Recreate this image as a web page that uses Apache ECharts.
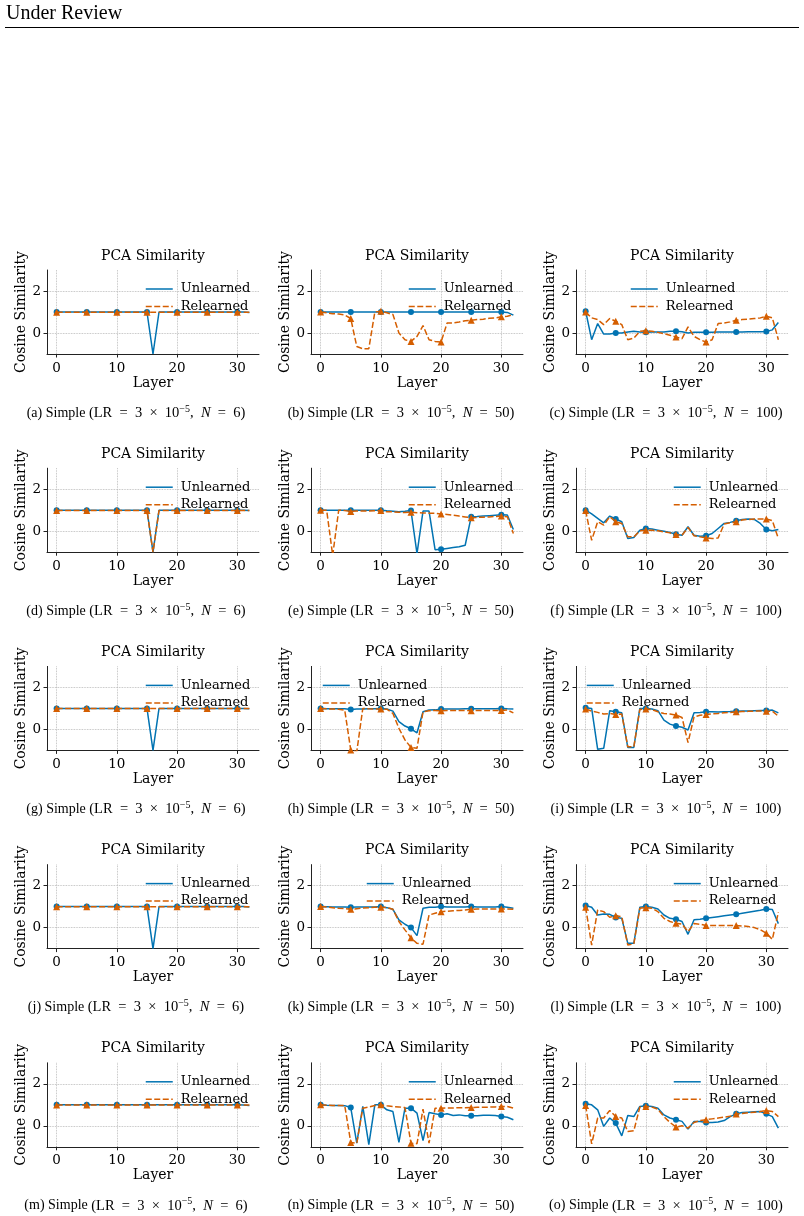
<!DOCTYPE html>
<html>
<head>
<meta charset="utf-8">
<script src="https://cdn.jsdelivr.net/npm/echarts@6/dist/echarts.min.js"></script>
<style>
  html, body { margin: 0; padding: 0; background: #fff; }
  #chart { width: 804px; height: 1216px; }
</style>
</head>
<body>
<div id="chart"></div>
<script>
// layers on the x axis
const layers = [0,1,2,3,4,5,6,7,8,9,10,11,12,13,14,15,16,17,18,19,20,21,22,23,24,25,26,27,28,29,30,31,32];
const xTicks = [0, 10, 20, 30];
const yTicks = [0, 2];
const panelLetters = ['a','b','c','d','e','f','g','h','i','j','k','l','m','n','o'];
const sampleSizes = [6, 50, 100];

// (a)
const unlearnedA = [1.0,1.0,1.0,1.0,1.0,1.0,1.0,1.0,1.0,1.0,1.0,1.0,1.0,1.0,1.0,1.0,-1.0,1.0,1.0,1.0,1.0,1.0,1.0,1.0,1.0,1.0,1.0,1.0,1.0,1.0,1.0,1.0,0.98];
const relearnedA = [0.99,0.99,0.99,0.99,0.99,0.99,0.99,0.99,0.99,0.99,0.99,0.99,0.99,0.99,0.99,0.99,0.99,0.99,0.99,0.99,0.99,0.99,0.99,0.99,0.99,0.99,0.99,0.99,0.99,0.99,0.99,0.99,0.99];
// (b)
const unlearnedB = [1.0,1.0,1.0,1.0,1.0,1.0,1.0,1.0,1.0,1.0,1.0,1.0,1.0,1.0,1.0,1.0,1.0,1.0,1.0,1.0,1.0,1.0,1.0,1.0,1.0,1.0,1.0,1.0,1.0,1.0,1.0,0.98,0.85];
const relearnedB = [1.0,0.96,0.92,0.9,0.86,0.69,-0.64,-0.75,-0.75,1.0,1.04,0.96,0.88,0.0,-0.32,-0.4,-0.16,0.35,-0.32,-0.4,-0.43,0.48,0.48,0.52,0.58,0.61,0.64,0.66,0.7,0.72,0.77,0.8,0.88];
// (c)
const unlearnedC = [1.04,-0.32,0.45,-0.05,-0.05,0.0,0.0,0.05,0.08,0.05,0.03,0.05,0.05,0.05,0.08,0.08,0.06,0.0,0.03,0.03,0.03,0.04,0.05,0.05,0.05,0.05,0.05,0.06,0.06,0.06,0.07,0.15,0.5];
const relearnedC = [1.0,0.72,0.64,0.4,0.69,0.56,0.4,-0.32,-0.24,0.08,0.11,0.08,0.03,-0.03,-0.11,-0.19,-0.27,0.29,-0.16,-0.32,-0.43,-0.32,0.45,0.48,0.53,0.61,0.64,0.66,0.69,0.72,0.8,0.72,-0.32];
// (d)
const unlearnedD = [1.0,1.0,1.0,1.0,1.0,1.0,1.0,1.0,1.0,1.0,1.0,1.0,1.0,1.0,1.0,1.0,-1.0,1.0,1.0,1.0,1.0,1.0,1.0,1.0,1.0,1.0,1.0,1.0,1.0,1.0,1.0,1.0,0.98];
const relearnedD = [0.99,0.99,0.99,0.99,0.99,0.99,0.99,0.99,0.99,0.99,0.99,0.99,0.99,0.99,0.99,0.99,-1.0,0.99,0.99,0.99,0.99,0.99,0.99,0.99,0.99,0.99,0.99,0.99,0.99,0.99,0.99,0.99,0.99];
// (e)
const unlearnedE = [1.0,1.0,1.0,1.0,1.0,1.0,1.0,1.0,1.0,1.0,1.0,0.97,0.95,0.93,0.95,0.98,-1.07,0.96,0.96,-0.88,-0.86,-0.82,-0.78,-0.74,-0.67,0.69,0.7,0.72,0.74,0.76,0.78,0.77,0.08];
const relearnedE = [1.0,1.0,-1.15,1.0,0.98,0.94,0.96,0.96,0.96,0.97,0.98,0.93,0.92,0.9,0.89,0.9,0.88,0.87,0.86,0.85,0.82,0.8,0.76,0.72,0.68,0.64,0.66,0.67,0.68,0.7,0.72,0.69,-0.11];
// (f)
const unlearnedF = [1.0,0.82,0.61,0.4,0.72,0.58,0.45,-0.35,-0.3,0.05,0.13,0.1,0.05,0.0,-0.06,-0.14,-0.19,0.21,-0.19,-0.24,-0.22,-0.11,0.13,0.37,0.42,0.5,0.56,0.58,0.56,0.37,0.08,0.02,0.08];
const relearnedF = [0.98,-0.43,0.45,0.29,0.69,0.45,0.37,-0.27,-0.27,0.02,0.05,0.05,0.02,-0.03,-0.08,-0.16,-0.19,0.18,-0.22,-0.27,-0.32,-0.35,-0.32,0.34,0.4,0.45,0.53,0.56,0.58,0.58,0.58,0.5,-0.35];
// (g)
const unlearnedG = [1.0,1.0,1.0,1.0,1.0,1.0,1.0,1.0,1.0,1.0,1.0,1.0,1.0,1.0,1.0,1.0,-1.0,1.0,1.0,1.0,1.0,1.0,1.0,1.0,1.0,1.0,1.0,1.0,1.0,1.0,1.0,1.0,0.98];
const relearnedG = [0.99,0.99,0.99,0.99,0.99,0.99,0.99,0.99,0.99,0.99,0.99,0.99,0.99,0.99,0.99,0.99,0.99,0.99,0.99,0.99,0.99,0.99,0.99,0.99,0.99,0.99,0.99,0.99,0.99,0.99,0.99,0.99,0.99];
// (h)
const unlearnedH = [1.0,0.98,0.98,0.98,0.98,0.95,0.97,0.97,0.98,0.98,1.0,0.97,0.87,0.37,0.16,0.03,-0.16,0.84,0.92,0.93,0.97,0.97,0.97,0.97,0.98,0.98,0.98,0.98,0.98,0.98,1.0,0.98,0.97];
const relearnedH = [1.0,0.98,0.97,0.96,0.92,-0.98,-1.06,1.0,0.98,0.97,0.97,0.96,0.76,0.05,-0.5,-0.86,-0.9,0.84,0.89,0.9,0.89,0.9,0.9,0.9,0.9,0.89,0.9,0.9,0.9,0.9,0.9,0.92,0.79];
// (i)
const unlearnedI = [1.03,1.0,-0.95,-0.9,0.89,0.84,0.79,-0.86,-0.86,1.0,1.0,0.97,0.89,0.44,0.25,0.16,0.1,-0.03,0.79,0.81,0.84,0.84,0.83,0.84,0.85,0.87,0.88,0.88,0.89,0.9,0.9,0.92,0.79];
const relearnedI = [0.97,0.87,0.81,0.73,0.76,0.71,0.73,-0.83,-0.83,0.95,0.97,0.94,0.84,0.76,0.73,0.68,0.57,-0.63,0.6,0.67,0.71,0.74,0.76,0.79,0.81,0.84,0.85,0.86,0.87,0.88,0.87,0.87,0.63];
// (j)
const unlearnedJ = [1.0,1.0,1.0,1.0,1.0,1.0,1.0,1.0,1.0,1.0,1.0,1.0,1.0,1.0,1.0,1.0,-1.0,1.0,1.0,1.0,1.0,1.0,1.0,1.0,1.0,1.0,1.0,1.0,1.0,1.0,1.0,1.0,0.98];
const relearnedJ = [0.99,0.99,0.99,0.99,0.99,0.99,0.99,0.99,0.99,0.99,0.99,0.99,0.99,0.99,0.99,0.99,0.99,0.99,0.99,0.99,0.99,0.99,0.99,0.99,0.99,0.99,0.99,0.99,0.99,0.99,0.99,0.99,0.99];
// (k)
const unlearnedK = [1.0,0.99,0.98,0.98,0.98,0.97,0.98,0.98,0.98,0.98,1.0,0.95,0.87,0.37,0.16,0.0,-0.38,0.92,0.97,0.97,1.0,0.98,0.98,0.98,0.98,1.0,0.98,0.98,0.98,0.98,1.0,0.97,0.92];
const relearnedK = [1.0,0.98,0.95,0.92,0.9,0.87,0.9,0.93,0.95,0.97,0.97,0.95,0.87,0.29,-0.11,-0.48,-0.75,-0.79,0.6,0.68,0.76,0.78,0.8,0.82,0.84,0.87,0.88,0.88,0.88,0.88,0.89,0.89,0.87];
// (l)
const unlearnedL = [1.05,0.97,0.6,0.65,0.63,0.48,0.44,-0.75,-0.75,0.97,1.0,0.97,0.89,0.6,0.44,0.4,0.29,-0.32,0.37,0.4,0.44,0.48,0.52,0.56,0.6,0.63,0.68,0.73,0.78,0.83,0.89,0.86,0.19];
const relearnedL = [0.97,-0.83,0.84,0.76,0.49,0.57,0.52,-0.83,-0.78,0.92,0.95,0.92,0.76,0.44,0.29,0.21,0.16,-0.19,0.19,0.16,0.1,0.1,0.1,0.1,0.1,0.1,0.08,0.05,0.0,-0.1,-0.27,-0.56,0.73];
// (m)
const unlearnedM = [1.0,1.0,1.0,1.0,1.0,1.0,1.0,1.0,1.0,1.0,1.0,1.0,1.0,1.0,1.0,1.0,1.0,1.0,1.0,1.0,1.0,1.0,1.0,1.0,1.0,1.0,1.0,1.0,1.0,1.0,1.0,0.99,0.97];
const relearnedM = [0.99,0.99,0.99,0.99,0.99,0.99,0.99,0.99,0.99,0.99,0.99,0.99,0.99,0.99,0.99,0.99,0.99,0.99,0.99,0.99,0.99,0.99,0.99,0.99,0.99,0.99,0.99,0.99,0.99,0.99,0.99,0.99,0.99];
// (n)
const unlearnedN = [1.0,0.98,0.97,0.97,0.96,0.87,-0.83,0.92,-0.9,1.0,1.0,0.76,0.68,-0.79,0.84,0.84,0.6,-0.71,0.63,0.57,0.52,0.57,0.49,0.52,0.48,0.48,0.48,0.5,0.5,0.49,0.44,0.41,0.29];
const relearnedN = [1.0,0.98,0.97,0.97,0.97,-0.79,-0.83,0.84,0.89,0.97,1.0,0.95,0.92,0.9,0.87,-0.83,-0.85,0.79,-0.83,0.84,0.84,0.85,0.85,0.86,0.86,0.87,0.88,0.88,0.89,0.9,0.92,0.92,0.84];
// (o)
const unlearnedO = [1.05,1.0,0.76,-0.03,0.37,0.13,-0.48,0.49,0.44,0.92,0.95,0.92,0.84,0.52,0.37,0.29,0.21,-0.16,0.21,0.21,0.16,0.16,0.18,0.25,0.44,0.57,0.63,0.65,0.67,0.68,0.57,0.44,-0.11];
const relearnedO = [0.97,-0.86,0.37,0.37,0.73,0.44,0.37,-0.27,-0.24,0.89,0.92,0.89,0.79,0.44,0.16,-0.06,0.0,-0.11,0.16,0.25,0.29,0.33,0.37,0.41,0.45,0.56,0.59,0.62,0.65,0.68,0.73,0.68,0.44];

const unlearned = [unlearnedA, unlearnedB, unlearnedC, unlearnedD, unlearnedE, unlearnedF, unlearnedG, unlearnedH,
  unlearnedI, unlearnedJ, unlearnedK, unlearnedL, unlearnedM, unlearnedN, unlearnedO];
const relearned = [relearnedA, relearnedB, relearnedC, relearnedD, relearnedE, relearnedF, relearnedG, relearnedH,
  relearnedI, relearnedJ, relearnedK, relearnedL, relearnedM, relearnedN, relearnedO];

// layout
const colLeft = [47, 311, 576];
const rowTop = [270, 468.2, 666.4, 864.6, 1062.8];
const plotW = 212;
const plotH = 84;
const captionX = [136, 401, 666];
// x of the legend handle start for each panel
const legendLeft = [145, 408, 630, 145, 408, 673, 145, 322, 586, 145, 366, 673, 145, 408, 673];

const BLUE = '#0173b2';
const ORANGE = '#d55e00';
const SERIF = "'DejaVu Serif', serif";
const TIMES = "'Liberation Serif', 'Times New Roman', serif";
const AXIS_COLOR = '#222';
const GRID_LINE = { show: true, lineStyle: { color: '#b0b0b0', type: 'dotted', width: 0.8 } };

function lineData(vals) {
  return vals.map((v, i) => {
    const item = { value: [layers[i], v] };
    if (i % 5 !== 0) item.symbol = 'none';
    return item;
  });
}

const grids = [], xAxes = [], yAxes = [], series = [], legends = [], graphics = [];

graphics.push({
  type: 'text', x: 6, y: 14,
  style: { text: 'Under Review', font: '20px ' + TIMES, fill: '#000', align: 'left', verticalAlign: 'middle' }
});
graphics.push({
  type: 'line', shape: { x1: 5, y1: 27.5, x2: 799, y2: 27.5 },
  style: { stroke: '#000', lineWidth: 1 }
});

for (let p = 0; p < 15; p++) {
  const row = Math.floor(p / 3);
  const col = p % 3;
  const top = rowTop[row];
  const left = colLeft[col];

  grids.push({ left: left, top: top, width: plotW, height: plotH });

  xAxes.push({
    gridIndex: p, type: 'value', min: -1.6, max: 33.6,
    name: 'Layer', nameLocation: 'middle', nameGap: 19,
    nameTextStyle: { fontFamily: SERIF, fontSize: 14, color: '#000' },
    axisLine: { show: true, onZero: false, lineStyle: { color: AXIS_COLOR, width: 1 } },
    axisTick: { show: true, inside: false, length: 3.5, customValues: xTicks, lineStyle: { color: AXIS_COLOR } },
    axisLabel: { customValues: xTicks, fontFamily: SERIF, fontSize: 13.5, color: '#000', margin: 7 },
    splitLine: GRID_LINE
  });

  yAxes.push({
    gridIndex: p, type: 'value', min: -1, max: 3,
    name: 'Cosine Similarity', nameLocation: 'middle', nameGap: 17,
    nameTextStyle: { fontFamily: SERIF, fontSize: 14, color: '#000' },
    axisLine: { show: true, onZero: false, lineStyle: { color: AXIS_COLOR, width: 1 } },
    axisTick: { show: true, inside: false, length: 3.5, customValues: yTicks, lineStyle: { color: AXIS_COLOR } },
    axisLabel: { customValues: yTicks, fontFamily: SERIF, fontSize: 13.5, color: '#000', margin: 6 },
    splitLine: GRID_LINE
  });

  series.push({
    name: 'Unlearned', type: 'line', xAxisIndex: p, yAxisIndex: p,
    data: lineData(unlearned[p]),
    symbol: 'circle', symbolSize: 6, showAllSymbol: true,
    lineStyle: { color: BLUE, width: 1.5 },
    itemStyle: { color: BLUE },
    emphasis: { disabled: true }, z: 2
  });
  series.push({
    name: 'Relearned', type: 'line', xAxisIndex: p, yAxisIndex: p,
    data: lineData(relearned[p]),
    symbol: 'triangle', symbolSize: 7, showAllSymbol: true,
    lineStyle: { color: ORANGE, width: 1.5, type: [6, 2.5] },
    itemStyle: { color: ORANGE },
    emphasis: { disabled: true }, z: 3
  });

  legends.push({
    orient: 'vertical', left: legendLeft[p], top: top + 11.5, padding: 0,
    itemGap: 2.5, itemWidth: 27, itemHeight: 12, selectedMode: false,
    data: ['Unlearned', 'Relearned'],
    itemStyle: { opacity: 0, borderWidth: 0 },
    lineStyle: { width: 1.5 },
    textStyle: { fontFamily: SERIF, fontSize: 13, color: '#000', lineHeight: 15, padding: [0, 0, 0, 3] }
  });

  graphics.push({
    type: 'text', x: left + plotW / 2, y: top - 14,
    style: { text: 'PCA Similarity', font: '14px ' + SERIF, fill: '#000', align: 'center', verticalAlign: 'middle' }
  });

  graphics.push({
    type: 'text', x: captionX[col], y: top + 143,
    style: {
      text: '(' + panelLetters[p] + ') Simple {m|(LR\u2002=\u20023\u2002\u00d7\u200210}{s|\u22125}{m|,\u2002}{i|N}{m|\u2002=\u2002' + sampleSizes[col] + ')}',
      font: '14px ' + TIMES, fill: '#000', align: 'center', verticalAlign: 'middle',
      rich: {
        m: { fontFamily: TIMES, fontSize: 14.5, lineHeight: 18 },
        s: { fontFamily: TIMES, fontSize: 10, lineHeight: 18, verticalAlign: 'top' },
        i: { fontFamily: TIMES, fontSize: 14.5, fontStyle: 'italic', lineHeight: 18 }
      }
    }
  });
}

const chart = echarts.init(document.getElementById('chart'), null, { renderer: 'canvas' });
chart.setOption({
  animation: false,
  backgroundColor: '#fff',
  grid: grids,
  xAxis: xAxes,
  yAxis: yAxes,
  legend: legends,
  series: series,
  graphic: graphics
});
</script>
</body>
</html>
